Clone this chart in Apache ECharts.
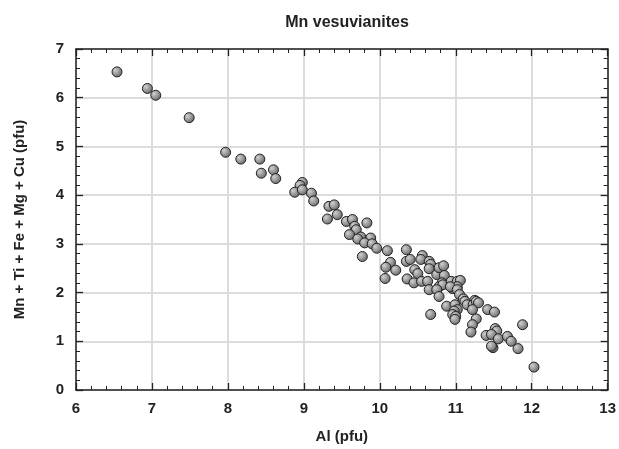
<!DOCTYPE html>
<html>
<head>
<meta charset="utf-8">
<script src="https://cdn.jsdelivr.net/npm/echarts@6/dist/echarts.min.js"></script>
<style>html,body{margin:0;padding:0;background:#fff}#c{width:619px;height:449px}</style>
</head>
<body>
<div id="c"></div>
<script>
var titleText = 'Mn vesuvianites';
var xName = 'Al (pfu)';
var yName = 'Mn + Ti + Fe + Mg + Cu (pfu)';
var xTicks = [6, 7, 8, 9, 10, 11, 12, 13];
var yTicks = [0, 1, 2, 3, 4, 5, 6, 7];
var alValues = [6.54,6.94,7.05,7.49,7.97,8.17,8.42,8.44,8.60,8.63,8.98,8.95,8.88,8.98,9.10,9.13,9.33,9.40,9.44,9.31,9.56,9.64,9.67,9.69,9.60,9.83,9.75,9.71,9.88,9.80,9.90,9.96,9.77,10.10,10.14,10.08,10.21,10.07,10.35,10.35,10.40,10.56,10.54,10.65,10.67,10.46,10.50,10.65,10.36,10.45,10.55,10.63,10.65,10.75,10.78,10.84,10.85,10.82,10.78,10.83,10.75,10.78,10.94,11.02,11.06,10.96,11.02,10.93,11.02,11.05,11.10,10.88,10.99,11.02,10.98,10.96,11.00,10.99,10.67,11.12,11.15,11.25,11.23,11.27,11.30,11.22,11.27,11.22,11.20,11.42,11.51,11.88,11.52,11.54,11.40,11.47,11.56,11.68,11.73,11.49,11.47,11.82,12.03];
var sumValues = [6.53,6.19,6.05,5.59,4.88,4.74,4.74,4.45,4.52,4.34,4.26,4.20,4.06,4.11,4.04,3.88,3.77,3.80,3.60,3.51,3.46,3.50,3.36,3.29,3.19,3.43,3.14,3.10,3.12,3.02,3.00,2.91,2.74,2.86,2.62,2.52,2.46,2.29,2.88,2.64,2.68,2.76,2.68,2.64,2.58,2.47,2.39,2.49,2.28,2.20,2.23,2.23,2.06,2.37,2.51,2.55,2.35,2.20,2.12,2.16,2.06,1.92,2.23,2.23,2.25,2.08,2.12,2.12,2.06,1.96,1.87,1.72,1.75,1.65,1.62,1.55,1.51,1.45,1.55,1.82,1.75,1.84,1.75,1.82,1.79,1.65,1.46,1.34,1.19,1.65,1.60,1.34,1.26,1.21,1.12,1.14,1.05,1.10,1.00,0.87,0.90,0.85,0.47];

var data = alValues.map(function (v, i) { return [v, sumValues[i]]; });
var font = 'Liberation Sans, Arial, Helvetica, sans-serif';
var chart = echarts.init(document.getElementById('c'), null, {renderer: 'canvas'});

function axisBase(isX, pos, showLabels) {
  var ticks = isX ? xTicks : yTicks;
  return {
    type: 'value',
    position: pos,
    min: ticks[0],
    max: ticks[ticks.length - 1],
    interval: 1,
    axisLine: {show: true, onZero: false, lineStyle: {color: '#222', width: 1.5}},
    axisTick: {show: true, inside: true, length: 7, lineStyle: {color: '#222', width: 1.3}},
    minorTick: {show: true, splitNumber: 5, length: 4, lineStyle: {color: '#222', width: 1}},
    splitLine: {show: showLabels, lineStyle: {color: '#dcdcdc', width: 2}},
    axisLabel: {show: showLabels, color: '#222', fontFamily: font, fontWeight: 'bold', fontSize: 15, margin: isX ? 11 : 12},
    name: showLabels ? (isX ? xName : yName) : '',
    nameLocation: 'middle',
    nameGap: isX ? 39 : 49,
    nameTextStyle: {color: '#222', fontFamily: font, fontWeight: 'bold', fontSize: 15}
  };
}

chart.setOption({
  animation: false,
  backgroundColor: '#fff',
  title: {
    text: titleText,
    left: 342,
    top: 10,
    textAlign: 'center',
    textStyle: {color: '#222', fontFamily: font, fontWeight: 'bold', fontSize: 16}
  },
  grid: {left: 76, right: 7, top: 49, bottom: 58},
  xAxis: [axisBase(true, 'bottom', true), axisBase(true, 'top', false)],
  yAxis: [axisBase(false, 'left', true), axisBase(false, 'right', false)],
  series: [{
    type: 'scatter',
    xAxisIndex: 0,
    yAxisIndex: 0,
    symbol: 'circle',
    symbolSize: 10,
    data: data,
    itemStyle: {
      color: {
        type: 'radial', x: 0.35, y: 0.35, r: 0.75,
        colorStops: [{offset: 0, color: '#d0d0d0'}, {offset: 1, color: '#5c5c5c'}]
      },
      borderColor: '#222',
      borderWidth: 1,
      opacity: 1
    }
  }]
});
</script>
</body>
</html>
